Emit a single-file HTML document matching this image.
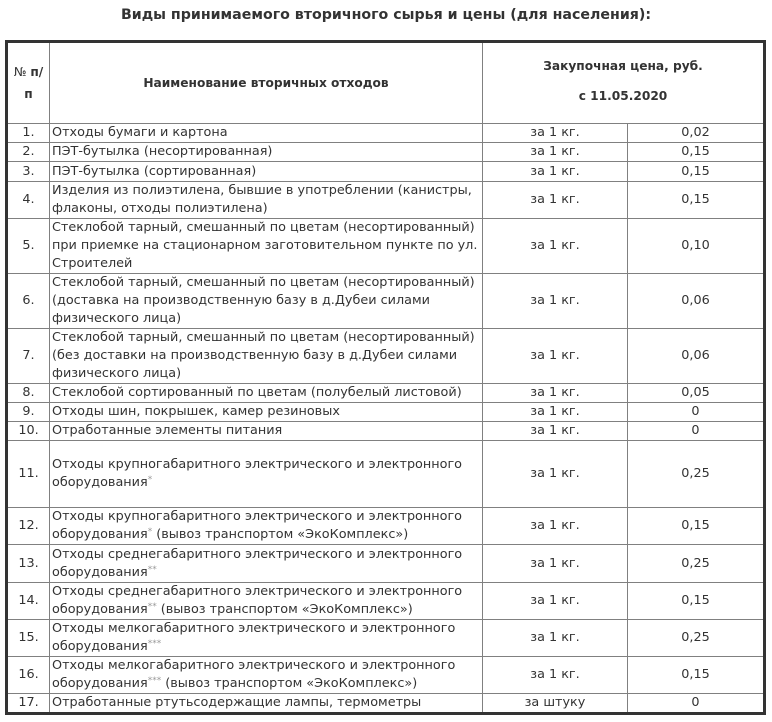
<!DOCTYPE html>
<html><head><meta charset="utf-8"><style>
body{margin:0;width:772px;height:722px;background:#fff;font-family:"DejaVu Sans","Liberation Sans",sans-serif;color:#333;position:relative;overflow:hidden}
h1{position:absolute;left:0;width:772px;top:7px;margin:0;text-align:center;font:bold 14.2px "DejaVu Sans","Liberation Sans",sans-serif;color:#333}
table{position:absolute;left:5px;top:40px;width:761px;border-collapse:collapse;table-layout:fixed;border:3px solid #333;font-size:12.8px}
td{border:1px solid #808080;padding:0 0 0 2px;line-height:18px;vertical-align:middle;overflow:hidden;white-space:nowrap}
td.n{text-align:center;padding:0}
td.c{text-align:center;padding:0}
th{border:1px solid #808080;font-weight:bold;font-size:12.2px;color:#333}
sup{font-size:9px;color:#999;vertical-align:top;line-height:12px}
</style></head><body>
<h1>Виды принимаемого вторичного сырья и цены (для населения):</h1>
<table>
<colgroup><col style="width:43px"><col style="width:433px"><col style="width:145px"><col style="width:137px"></colgroup>
<tr style="height:82px"><th style="line-height:22px;font-weight:normal">№ <b>п/<br>п</b></th><th>Наименование вторичных отходов</th><th colspan="2" style="line-height:30px;vertical-align:top;padding-top:8px">Закупочная цена, руб.<br>с 11.05.2020</th></tr>
<tr style="height:19px"><td class="n">1.</td><td>Отходы бумаги и картона</td><td class="c">за 1 кг.</td><td class="c">0,02</td></tr>
<tr style="height:19px"><td class="n">2.</td><td>ПЭТ-бутылка (несортированная)</td><td class="c">за 1 кг.</td><td class="c">0,15</td></tr>
<tr style="height:20px"><td class="n">3.</td><td>ПЭТ-бутылка (сортированная)</td><td class="c">за 1 кг.</td><td class="c">0,15</td></tr>
<tr style="height:36px"><td class="n">4.</td><td>Изделия из полиэтилена, бывшие в употреблении (канистры,<br>флаконы, отходы полиэтилена)</td><td class="c">за 1 кг.</td><td class="c">0,15</td></tr>
<tr style="height:55px"><td class="n">5.</td><td>Стеклобой тарный, смешанный по цветам (несортированный)<br>при приемке на стационарном заготовительном пункте по ул.<br>Строителей</td><td class="c">за 1 кг.</td><td class="c">0,10</td></tr>
<tr style="height:55px"><td class="n">6.</td><td>Стеклобой тарный, смешанный по цветам (несортированный)<br>(доставка на производственную базу в д.Дубеи силами<br>физического лица)</td><td class="c">за 1 кг.</td><td class="c">0,06</td></tr>
<tr style="height:55px"><td class="n">7.</td><td>Стеклобой тарный, смешанный по цветам (несортированный)<br>(без доставки на производственную базу в д.Дубеи силами<br>физического лица)</td><td class="c">за 1 кг.</td><td class="c">0,06</td></tr>
<tr style="height:19px"><td class="n">8.</td><td>Стеклобой сортированный по цветам (полубелый листовой)</td><td class="c">за 1 кг.</td><td class="c">0,05</td></tr>
<tr style="height:19px"><td class="n">9.</td><td>Отходы шин, покрышек, камер резиновых</td><td class="c">за 1 кг.</td><td class="c">0</td></tr>
<tr style="height:19px"><td class="n">10.</td><td>Отработанные элементы питания</td><td class="c">за 1 кг.</td><td class="c">0</td></tr>
<tr style="height:67px"><td class="n">11.</td><td>Отходы крупногабаритного электрического и электронного<br>оборудования<sup>*</sup></td><td class="c">за 1 кг.</td><td class="c">0,25</td></tr>
<tr style="height:36px"><td class="n">12.</td><td>Отходы крупногабаритного электрического и электронного<br>оборудования<sup>*</sup> (вывоз транспортом «ЭкоКомплекс»)</td><td class="c">за 1 кг.</td><td class="c">0,15</td></tr>
<tr style="height:38px"><td class="n">13.</td><td>Отходы среднегабаритного электрического и электронного<br>оборудования<sup>**</sup></td><td class="c">за 1 кг.</td><td class="c">0,25</td></tr>
<tr style="height:37px"><td class="n">14.</td><td>Отходы среднегабаритного электрического и электронного<br>оборудования<sup>**</sup> (вывоз транспортом «ЭкоКомплекс»)</td><td class="c">за 1 кг.</td><td class="c">0,15</td></tr>
<tr style="height:37px"><td class="n">15.</td><td>Отходы мелкогабаритного электрического и электронного<br>оборудования<sup>***</sup></td><td class="c">за 1 кг.</td><td class="c">0,25</td></tr>
<tr style="height:37px"><td class="n">16.</td><td>Отходы мелкогабаритного электрического и электронного<br>оборудования<sup>***</sup> (вывоз транспортом «ЭкоКомплекс»)</td><td class="c">за 1 кг.</td><td class="c">0,15</td></tr>
<tr style="height:19px"><td class="n">17.</td><td>Отработанные ртутьсодержащие лампы, термометры</td><td class="c">за штуку</td><td class="c">0</td></tr>
</table>
</body></html>
